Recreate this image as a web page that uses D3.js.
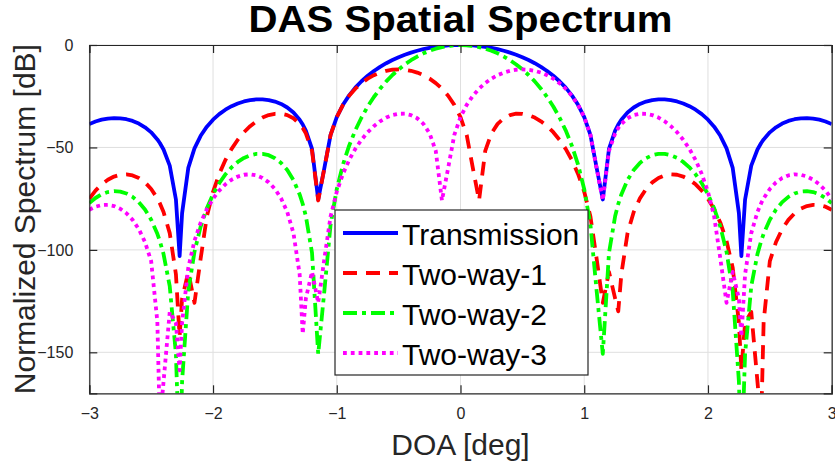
<!DOCTYPE html>
<html>
<head>
<meta charset="utf-8">
<script src="https://cdn.jsdelivr.net/npm/d3@7"></script>
<style>
  html, body { margin: 0; padding: 0; background: #fff; }
  svg { display: block; font-family: "Liberation Sans", Arial, Helvetica, sans-serif; }
</style>
</head>
<body>
<svg id="chart" width="835" height="469"></svg>
<script>
// ---------------- data ----------------
const doa = [-3, -2.95, -2.9, -2.85, -2.8, -2.75, -2.7, -2.65, -2.6, -2.55, -2.5, -2.45, -2.43, -2.4, -2.35, -2.3, -2.27, -2.25, -2.2, -2.15, -2.1, -2.05, -2, -1.95, -1.9, -1.85, -1.8, -1.75, -1.7, -1.65, -1.6, -1.55, -1.5, -1.45, -1.4, -1.35, -1.3, -1.275, -1.25, -1.2, -1.15, -1.1, -1.05, -1, -0.95, -0.9, -0.85, -0.8, -0.75, -0.7, -0.65, -0.6, -0.55, -0.5, -0.45, -0.4, -0.35, -0.3, -0.25, -0.2, -0.15, -0.1, -0.05, 0, 0.05, 0.1, 0.15, 0.2, 0.25, 0.3, 0.35, 0.4, 0.45, 0.5, 0.55, 0.6, 0.65, 0.7, 0.75, 0.8, 0.85, 0.9, 0.95, 1, 1.05, 1.1, 1.15, 1.2, 1.25, 1.275, 1.3, 1.35, 1.4, 1.45, 1.5, 1.55, 1.6, 1.65, 1.7, 1.75, 1.8, 1.85, 1.9, 1.95, 2, 2.05, 2.1, 2.15, 2.2, 2.25, 2.27, 2.3, 2.35, 2.4, 2.43, 2.45, 2.5, 2.55, 2.6, 2.65, 2.7, 2.75, 2.8, 2.85, 2.9, 2.95, 3];

const transmission = [-38.59, -37.34, -36.44, -35.89, -35.67, -35.77, -36.23, -37.07, -38.35, -40.15, -42.64, -46.08, -47.83, -51.03, -58.86, -75.40, -103.0, -82.06, -60.00, -50.45, -44.32, -39.86, -36.44, -33.73, -31.57, -29.86, -28.54, -27.56, -26.91, -26.57, -26.56, -26.90, -27.62, -28.78, -30.50, -32.95, -36.47, -38.8, -41.74, -50.74, -75.39, -59.92, -43.83, -35.19, -29.19, -24.57, -20.82, -17.69, -15.01, -12.69, -10.66, -8.88, -7.32, -5.95, -4.75, -3.71, -2.81, -2.04, -1.41, -0.90, -0.50, -0.22, -0.06,
  0,
  -0.06, -0.22, -0.50, -0.90, -1.41, -2.04, -2.81, -3.71, -4.75, -5.95, -7.32, -8.88, -10.66, -12.69, -15.01, -17.69, -20.82, -24.57, -29.19, -35.19, -43.83, -59.92, -75.39, -50.74, -41.74, -38.8, -36.47, -32.95, -30.50, -28.78, -27.62, -26.90, -26.56, -26.57, -26.91, -27.56, -28.54, -29.86, -31.57, -33.73, -36.44, -39.86, -44.32, -50.45, -60.00, -82.06, -103.0, -75.40, -58.86, -51.03, -47.83, -46.08, -42.64, -40.15, -38.35, -37.07, -36.23, -35.77, -35.67, -35.89, -36.44, -37.34, -38.59];

const twoWay1 = [-75.03, -71.07, -68.01, -65.75, -64.21, -63.33, -63.14, -63.64, -64.91, -67.05, -70.26, -74.86, -77.23, -81.53, -91.81, -111.87, -142.34, -123.80, -110.74, -125.84, -104.24, -83.69, -71.63, -62.92, -56.14, -50.68, -46.23, -42.57, -39.60, -37.23, -35.44, -34.22, -33.57, -33.53, -34.21, -35.76, -38.51, -40.5, -43.15, -51.64, -75.89, -60.14, -43.89, -35.19, -29.25, -24.79, -21.32, -18.59, -16.42, -14.73, -13.47, -12.59, -12.07, -11.90, -12.07, -12.59, -13.47, -14.73, -16.42, -18.59, -21.32, -24.79, -29.25,
  -35.19,
  -43.89, -60.14, -75.89, -51.64, -43.15, -38.51, -35.76, -34.21, -33.53, -33.57, -34.22, -35.44, -37.23, -39.60, -42.57, -46.23, -50.68, -56.14, -62.92, -71.63, -83.69, -104.24, -125.84, -110.74, -123.80, -130.0, -111.87, -91.81, -81.53, -74.86, -70.26, -67.05, -64.91, -63.64, -63.14, -63.33, -64.21, -65.75, -68.01, -71.07, -75.03, -80.12, -86.72, -95.59, -108.68, -135.46, -158.78, -135.54, -130.32, -164.35, -185.0, -135.0, -105.49, -96.17, -89.85, -85.35, -82.14, -79.94, -78.61, -78.01, -78.12, -78.92, -80.41];

const twoWay2 = [-77.18, -74.68, -72.88, -71.78, -71.34, -71.54, -72.46, -74.14, -76.70, -80.30, -85.28, -92.16, -95.66, -102.06, -117.72, -150.80, -206.0, -164.12, -120.00, -100.90, -88.64, -79.72, -72.88, -67.46, -63.14, -59.72, -57.08, -55.12, -53.82, -53.14, -53.12, -53.80, -55.24, -57.56, -61.00, -65.90, -72.94, -77.6, -83.48, -101.48, -150.78, -119.84, -87.66, -70.38, -58.38, -49.14, -41.64, -35.38, -30.02, -25.38, -21.32, -17.76, -14.64, -11.90, -9.50, -7.42, -5.62, -4.08, -2.82, -1.80, -1.00, -0.44, -0.12,
  0,
  -0.12, -0.44, -1.00, -1.80, -2.82, -4.08, -5.62, -7.42, -9.50, -11.90, -14.64, -17.76, -21.32, -25.38, -30.02, -35.38, -41.64, -49.14, -58.38, -70.38, -87.66, -119.84, -150.78, -101.48, -83.48, -77.6, -72.94, -65.90, -61.00, -57.56, -55.24, -53.80, -53.12, -53.14, -53.82, -55.12, -57.08, -59.72, -63.14, -67.46, -72.88, -79.72, -88.64, -100.90, -120.00, -164.12, -206.0, -150.80, -117.72, -102.06, -95.66, -92.16, -85.28, -80.30, -76.70, -74.14, -72.46, -71.54, -71.34, -71.78, -72.88, -74.68, -77.18];

const twoWay3 = [-80.41, -78.92, -78.12, -78.01, -78.61, -79.94, -82.14, -85.35, -89.85, -96.17, -105.49, -135.0, -185.0, -164.35, -130.32, -135.54, -158.78, -135.46, -108.68, -95.59, -86.72, -80.12, -75.03, -71.07, -68.01, -65.75, -64.21, -63.33, -63.14, -63.64, -64.91, -67.05, -70.26, -74.86, -81.53, -91.81, -111.87, -141.0, -123.80, -110.74, -125.84, -104.24, -83.69, -71.63, -62.92, -56.14, -50.68, -46.23, -42.57, -39.60, -37.23, -35.44, -34.22, -33.57, -33.53, -34.21, -35.76, -38.51, -43.15, -51.64, -75.89, -60.14, -43.89,
  -35.19,
  -29.25, -24.79, -21.32, -18.59, -16.42, -14.73, -13.47, -12.59, -12.07, -11.90, -12.07, -12.59, -13.47, -14.73, -16.42, -18.59, -21.32, -24.79, -29.25, -35.19, -43.89, -60.14, -75.89, -51.64, -43.15, -40.5, -38.51, -35.76, -34.21, -33.53, -33.57, -34.22, -35.44, -37.23, -39.60, -42.57, -46.23, -50.68, -56.14, -62.92, -71.63, -83.69, -104.24, -125.84, -110.74, -123.80, -142.34, -111.87, -91.81, -81.53, -77.23, -74.86, -70.26, -67.05, -64.91, -63.64, -63.14, -63.33, -64.21, -65.75, -68.01, -71.07, -75.03];

const seriesNames = ["Transmission", "Two-way-1", "Two-way-2", "Two-way-3"];
const seriesValues = [transmission, twoWay1, twoWay2, twoWay3];
const xTicks = [-3, -2, -1, 0, 1, 2, 3];
const yTicks = [0, -50, -100, -150];
const titleText = "DAS Spatial Spectrum";
const xLabelText = "DOA [deg]";
const yLabelText = "Normalized Spectrum [dB]";

// ---------------- styles ----------------
const styles = [
  { color: "#0000ff", dash: null },
  { color: "#ff0000", dash: "14,9" },
  { color: "#00ff00", dash: "14,5,4,5" },
  { color: "#ff00ff", dash: "3.8,4" }
];
const lineW = 3.8;

// ---------------- layout ----------------
const svg = d3.select("#chart");
const L = 89.3, R = 831.7, T = 45, B = 393.3;
const axisColor = "#262626";

const x = d3.scaleLinear().domain([-3, 3]).range([L, R]);
const y = d3.scaleLinear().domain([-170, 0]).range([B, T]);

svg.append("rect").attr("width", 835).attr("height", 469).attr("fill", "#fff");

// grid
const grid = svg.append("g");
grid.selectAll("line.gx").data(xTicks).join("line")
  .attr("x1", d => x(d)).attr("x2", d => x(d)).attr("y1", T).attr("y2", B)
  .attr("stroke", "#dfdfdf").attr("stroke-width", 1);
grid.selectAll("line.gy").data(yTicks).join("line")
  .attr("y1", d => y(d)).attr("y2", d => y(d)).attr("x1", L).attr("x2", R)
  .attr("stroke", "#dfdfdf").attr("stroke-width", 1);

// clip
svg.append("defs").append("clipPath").attr("id", "plotclip")
  .append("rect").attr("x", L).attr("y", T).attr("width", R - L).attr("height", B - T);

// lines
const line = d3.line().x(d => x(d[0])).y(d => y(d[1]));
const plot = svg.append("g").attr("clip-path", "url(#plotclip)");
seriesValues.forEach((vals, i) => {
  const pts = doa.map((d, j) => [d, vals[j]]);
  plot.append("path").datum(pts)
    .attr("d", line)
    .attr("fill", "none")
    .attr("stroke", styles[i].color)
    .attr("stroke-width", lineW)
    .attr("stroke-linejoin", "round")
    .attr("stroke-dasharray", styles[i].dash);
});

// axes (box with inner ticks)
const tickLen = 8;
const bottomAxis = d3.axisBottom(x).tickValues(xTicks).tickSize(-tickLen).tickPadding(14).tickFormat(d3.format("d"));
const topAxis = d3.axisTop(x).tickValues(xTicks).tickSize(-tickLen).tickFormat("");
const leftAxis = d3.axisLeft(y).tickValues(yTicks).tickSize(-tickLen).tickPadding(16).tickFormat(d => d3.format("d")(d));
const rightAxis = d3.axisRight(y).tickValues(yTicks).tickSize(-tickLen).tickFormat("");

function styleAxis(g) {
  g.select(".domain").attr("stroke", axisColor).attr("stroke-width", 1.2);
  g.selectAll(".tick line").attr("stroke", axisColor).attr("stroke-width", 1.2);
  g.selectAll(".tick text").attr("fill", axisColor)
    .style("font-size", "16px").style("font-family", '"Liberation Sans", Arial, sans-serif');
}
svg.append("g").attr("transform", `translate(0,${B})`).call(bottomAxis).call(styleAxis);
svg.append("g").attr("transform", `translate(0,${T})`).call(topAxis).call(styleAxis);
svg.append("g").attr("transform", `translate(${L},0)`).call(leftAxis).call(styleAxis);
svg.append("g").attr("transform", `translate(${R},0)`).call(rightAxis).call(styleAxis);

// title
svg.append("text")
  .attr("x", (L + R) / 2).attr("y", 32)
  .attr("text-anchor", "middle")
  .attr("font-weight", "bold")
  .attr("font-size", 36)
  .attr("textLength", 424)
  .attr("lengthAdjust", "spacingAndGlyphs")
  .attr("fill", "#000")
  .text(titleText);

// x label
svg.append("text")
  .attr("x", (L + R) / 2).attr("y", 455)
  .attr("text-anchor", "middle")
  .attr("font-size", 30)
  .attr("fill", axisColor)
  .text(xLabelText);

// y label
svg.append("text")
  .attr("transform", `translate(35,${(T + B) / 2}) rotate(-90)`)
  .attr("text-anchor", "middle")
  .attr("font-size", 30)
  .attr("fill", axisColor)
  .text(yLabelText);

// legend
const lg = svg.append("g");
lg.append("rect")
  .attr("x", 335).attr("y", 210).attr("width", 253).attr("height", 165)
  .attr("fill", "#fff").attr("stroke", axisColor).attr("stroke-width", 1.2);
seriesNames.forEach((name, i) => {
  const cy = 233 + i * 40;
  lg.append("line")
    .attr("x1", 343).attr("x2", 398).attr("y1", cy).attr("y2", cy)
    .attr("stroke", styles[i].color).attr("stroke-width", lineW)
    .attr("stroke-dasharray", styles[i].dash);
  lg.append("text")
    .attr("x", 402).attr("y", cy + 12)
    .attr("font-size", 30).attr("fill", "#000")
    .text(name);
});
</script>
</body>
</html>
